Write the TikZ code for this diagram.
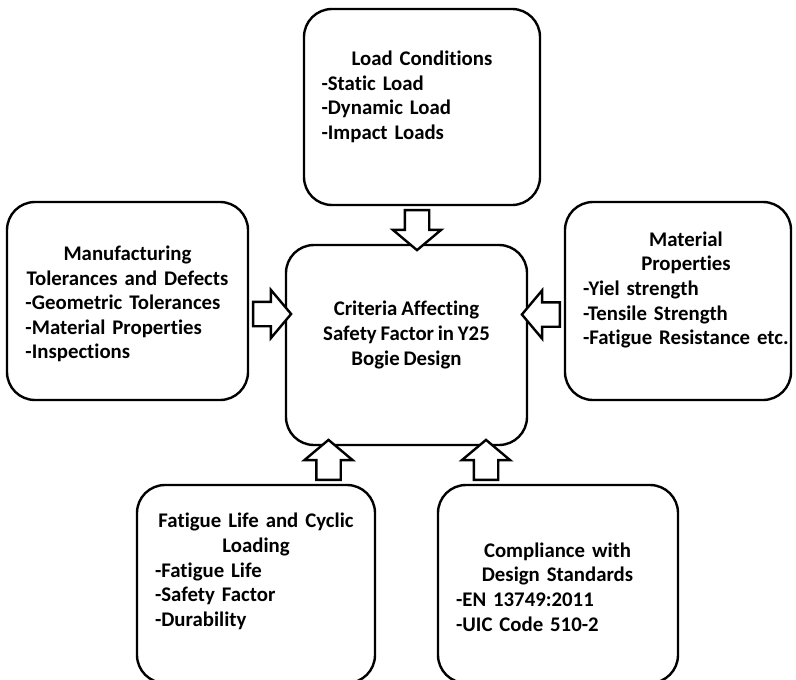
\documentclass[tikz,border=0pt]{standalone}
\usepackage{fontspec}
\setmainfont{Carlito}[Ligatures=NoCommon,WordSpace=0.8]
\usetikzlibrary{shapes.arrows,positioning,calc}
\begin{document}
\begin{tikzpicture}[x=1bp,y=-1bp,line width=2.4bp,
   box/.style={draw,rounded corners=28bp,fill=white,inner sep=0pt},
   txt/.style={font=\bfseries\fontsize{20.8bp}{24.6bp}\selectfont,align=left,inner sep=0pt},
   fat/.style={draw,fill=white,single arrow,single arrow head extend=12bp,
      single arrow tip angle=100,inner xsep=0pt,inner ysep=11bp,minimum height=#1},
   fat/.default=40bp]
   \useasboundingbox (0,0) rectangle (796,680);
   \node [box,minimum width=236bp,minimum height=196bp] (B_load)  at (422,107) {};
   \node [box,minimum width=241bp,minimum height=198bp] (B_manuf) at (127.5,301) {};
   \node [box,minimum width=241bp,minimum height=200bp] (B_crit)  at (406.5,345) {};
   \node [box,minimum width=226bp,minimum height=198bp] (B_mat)   at (678,301) {};
   \node [box,minimum width=238bp,minimum height=198bp] (B_fat)   at (256,584) {};
   \node [box,minimum width=240bp,minimum height=198bp] (B_comp)  at (558,584) {};
   \node [txt,text width=201bp] (T_load)  at (422,97)
      {{\centering Load Conditions\par}-Static Load\\-Dynamic Load\\-Impact Loads};
   \node [txt,text width=204bp] (T_manuf) at (127.5,304)
      {{\centering Manufacturing\\Tolerances and Defects\par}-Geometric Tolerances\\-Material Properties\\-Inspections};
   \node [txt,align=center] (T_crit) at (406.5,335)
      {Criteria Affecting\\Safety Factor in Y25\\Bogie Design};
   \node [txt,text width=206bp] (T_mat) at (686,290)
      {{\centering Material\\Properties\par}-Yiel strength\\-Tensile Strength\\-Fatigue Resistance etc.};
   \node [txt,text width=202bp] (T_fat) at (256,571.5)
      {{\centering Fatigue Life and Cyclic\\Loading\par}-Fatigue Life\\-Safety Factor\\-Durability};
   \node [txt,text width=203bp] (T_comp) at (557.5,587)
      {{\centering Compliance with\\Design Standards\par}-EN 13749:2011\\-UIC Code 510-2};
   \node [fat,rotate=-90]       (A_load)  at (417,225) {};
   \node [fat=38bp]             (A_manuf) at (267,314) {};
   \node [fat=38bp,rotate=180]  (A_mat)   at (546,314.5) {};
   \node [fat,rotate=90]        (A_fat)   at (328.5,465) {};
   \node [fat,rotate=90]        (A_comp)  at (486,465) {};
\end{tikzpicture}
\end{document}
